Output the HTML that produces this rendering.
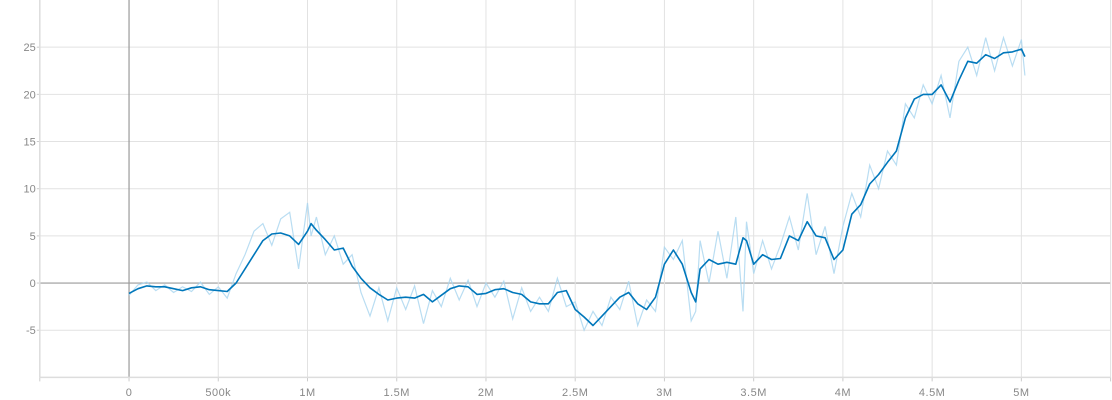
<!DOCTYPE html>
<html><head><meta charset="utf-8"><style>
html,body{margin:0;padding:0;background:#fff;}
svg{display:block;font-family:"Liberation Sans",sans-serif;}
</style></head><body>
<svg id="chart" width="1112" height="400" viewBox="0 0 1112 400">
<g id="grid"></g>
<g id="axes"></g>
<g id="series"></g>
</svg>
<script>
const steps = [0,50,100,150,200,250,300,350,400,450,500,550,600,650,700,750,800,850,900,950,1000,1020,1050,1100,1150,1200,1250,1300,1350,1400,1450,1500,1550,1600,1650,1700,1750,1800,1850,1900,1950,2000,2050,2100,2150,2200,2250,2300,2350,2400,2450,2500,2550,2600,2650,2700,2750,2800,2850,2900,2950,3000,3050,3100,3150,3175,3200,3250,3300,3350,3400,3440,3460,3500,3550,3600,3650,3700,3750,3800,3850,3900,3950,4000,4050,4100,4150,4200,4250,4300,4350,4400,4450,4500,4550,4600,4650,4700,4750,4800,4850,4900,4950,5000,5020];
const smoothed = [-1.1,-0.6,-0.3,-0.4,-0.4,-0.6,-0.8,-0.5,-0.4,-0.7,-0.8,-0.9,0.0,1.5,3.0,4.5,5.2,5.3,5.0,4.1,5.5,6.3,5.6,4.6,3.5,3.7,1.8,0.5,-0.5,-1.2,-1.8,-1.6,-1.5,-1.6,-1.2,-2.0,-1.3,-0.6,-0.3,-0.4,-1.2,-1.1,-0.7,-0.6,-1.0,-1.2,-2.0,-2.2,-2.2,-1.0,-0.8,-2.8,-3.6,-4.5,-3.5,-2.5,-1.5,-1.0,-2.2,-2.8,-1.5,2.0,3.5,2.0,-1.0,-2.0,1.5,2.5,2.0,2.2,2.0,4.8,4.5,2.0,3.0,2.5,2.6,5.0,4.5,6.5,5.0,4.8,2.5,3.5,7.3,8.3,10.5,11.5,12.8,14.0,17.5,19.5,20.0,20.0,21.0,19.2,21.5,23.5,23.3,24.2,23.8,24.4,24.5,24.8,24.0];
const raw = [-1.3,-0.2,0.1,-0.8,-0.2,-1.0,-0.4,-0.9,0.1,-1.2,-0.4,-1.6,1.0,3.0,5.5,6.3,4.0,6.8,7.5,1.5,8.5,5.0,7.0,3.0,5.0,2.0,3.0,-1.0,-3.5,-0.5,-4.0,-0.5,-2.8,-0.3,-4.3,-0.8,-2.5,0.5,-1.8,0.3,-2.5,0.0,-1.5,0.2,-3.8,-0.5,-3.0,-1.5,-3.0,0.5,-2.5,-2.0,-5.0,-3.0,-4.5,-1.5,-2.8,0.2,-4.5,-1.8,-3.0,3.8,2.5,4.5,-4.0,-3.0,4.5,0.0,5.5,0.5,7.0,-3.0,6.5,1.0,4.5,1.5,4.0,7.0,3.5,9.5,3.0,6.0,1.0,6.0,9.5,7.0,12.5,10.0,14.0,12.5,19.0,17.5,21.0,19.0,22.0,17.5,23.5,25.0,22.0,26.0,22.5,26.0,23.0,25.8,22.0];
const yTicks = [-5,0,5,10,15,20,25];
const yTickLabels = ["-5","0","5","10","15","20","25"];
const xTicks = [0,500,1000,1500,2000,2500,3000,3500,4000,4500,5000];
const xTickLabels = ["0","500k","1M","1.5M","2M","2.5M","3M","3.5M","4M","4.5M","5M"];

const NS="http://www.w3.org/2000/svg";
const X0=-500,X1=5500,PX0=39.8,PX1=1110.6;
const Y0=-10,Y1=30,PY0=377.4,PY1=0;
function sx(v){return PX0+(v-X0)/(X1-X0)*(PX1-PX0);}
function sy(v){return PY0+(v-Y0)/(Y1-Y0)*(PY1-PY0);}
function mk(tag,attrs,parent){const e=document.createElementNS(NS,tag);for(const k in attrs)e.setAttribute(k,attrs[k]);parent.appendChild(e);return e;}
const grid=document.getElementById('grid'),axes=document.getElementById('axes'),series=document.getElementById('series');

yTicks.forEach((t,i)=>{
  const l=mk('line',{x1:PX0,x2:PX1,y1:sy(t),y2:sy(t),stroke:t===0?'#9a9a9a':'#e2e2e2','stroke-width':t===0?1.2:1},grid);
  
  
  const tk=mk('line',{x1:PX0-3,x2:PX0,y1:sy(t),y2:sy(t),stroke:'#ccc'},axes);
  
  
  const tx=mk('text',{x:PX0-4,y:sy(t)+4,'text-anchor':'end','font-size':11,fill:'#888'},axes);
  tx.textContent=yTickLabels[i];
  
  
});
xTicks.forEach((t,i)=>{
  const l=mk('line',{x1:sx(t),x2:sx(t),y1:PY1,y2:PY0,stroke:t===0?'#9a9a9a':'#e2e2e2','stroke-width':t===0?1.2:1},grid);
  
  
  const tk=mk('line',{x1:sx(t),x2:sx(t),y1:PY0,y2:PY0+4,stroke:'#ccc'},axes);
  
  
  const tx=mk('text',{x:sx(t),y:396,'text-anchor':'middle','font-size':11,fill:'#888','letter-spacing':'0.5'},axes);
  tx.textContent=xTickLabels[i];
  
  
});
[X0,X1].forEach(t=>{
  const tk=mk('line',{x1:sx(t),x2:sx(t),y1:PY0,y2:PY0+4,stroke:'#ccc'},axes);
  
  
});
const la=mk('line',{x1:PX0,x2:PX0,y1:0,y2:PY0,stroke:'#ddd','stroke-width':1.5},axes);


const ba=mk('line',{x1:PX0,x2:PX1,y1:PY0,y2:PY0,stroke:'#ddd','stroke-width':1.5},axes);


const ra=mk('line',{x1:PX1,x2:PX1,y1:0,y2:PY0,stroke:'#e2e2e2'},axes);



function path(vals){return vals.map((v,i)=>(i?'L':'M')+sx(steps[i]).toFixed(1)+','+sy(v).toFixed(1)).join('');}
const rp=mk('path',{d:path(raw),fill:'none',stroke:'#a8d4ef','stroke-width':1.2,opacity:0.8},series);


const sp=mk('path',{d:path(smoothed),fill:'none',stroke:'#0077bb','stroke-width':1.6,'stroke-linejoin':'round'},series);


</script>
</body></html>
